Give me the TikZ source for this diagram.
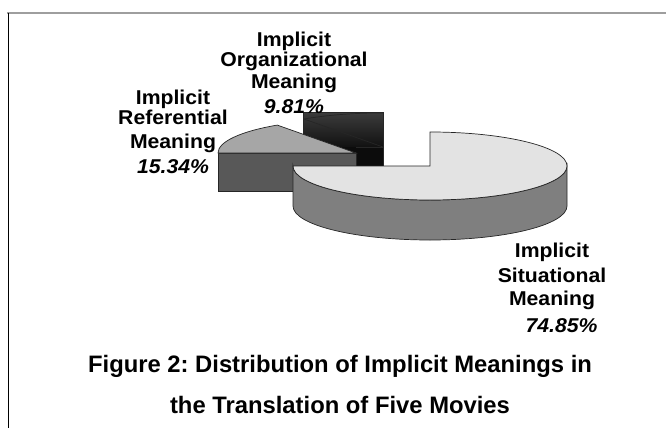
\documentclass[tikz,border=0pt]{standalone}
\usepackage{fontspec}
\setmainfont{Liberation Sans}
\frenchspacing
\definecolor{sitTop}{HTML}{E3E3E3}
\definecolor{sitSide}{HTML}{7F7F7F}
\definecolor{refTop}{HTML}{A6A6A6}
\definecolor{refSide}{HTML}{585858}
\definecolor{orgTop}{HTML}{3C3C3C}
\definecolor{orgBot}{HTML}{111111}
\definecolor{orgDark}{HTML}{0C0C0C}
\tikzset{every path/.style={line width=0.7pt}, edge/.style={draw=black!85},
  lbl/.style={font=\fontsize{20}{22}\selectfont\bfseries, align=center, inner sep=0pt, anchor=north, xscale=1.06},
  capt/.style={font=\fontsize{23.8}{41}\selectfont\bfseries, align=center, inner sep=0pt, anchor=north}}

\begin{document}
\begin{tikzpicture}[x=1pt,y=1pt]
   \useasboundingbox (0,0) rectangle (666,-428);
   \draw[black!38,line width=1.4pt] (7,-13) -- (666,-13);
   \draw[black,line width=1pt] (8,-13) -- (8,-428);
   % organizational slice
   \shade[top color=orgTop,bottom color=orgBot] (303,-112) rectangle (383,-147);
   \fill[orgDark] (303,-147) rectangle (383,-167);
   \draw[edge] (303,-150) -- (303,-112) -- (383,-112) -- (383,-167);
   \draw[edge] (304,-119) arc[start angle=124.8,end angle=90,x radius=138,y radius=34];
   \draw[edge] (304,-119) -- (383,-147);
   \draw[edge] (356,-147) -- (383,-147);
   % referential slice
   \filldraw[edge,fill=refSide] (218,-153) rectangle (356,-191);
   \filldraw[edge,fill=refTop] (356,-153) -- (218,-153) arc[start angle=180,end angle=124.8,x radius=138,y radius=34] -- cycle;
   % situational slice
   \filldraw[edge,fill=sitSide] (293,-166) -- (293,-206) arc[start angle=180,end angle=360,x radius=137,y radius=34]
      -- (567,-166) arc[start angle=0,end angle=-180,x radius=137,y radius=34] -- cycle;
   \filldraw[edge,fill=sitTop] (430,-166) -- (293,-166) arc[start angle=180,end angle=450,x radius=137,y radius=34] -- cycle;
   % labels
   \node[lbl] (orgLbl) at (294,-32) {Implicit\\[-2pt]Organizational\\Meaning\\[3pt]\textit{9.81\%}};
   \node[lbl] (refLbl) at (173,-90) {Implicit\\[-2pt]Referential\\[2pt]Meaning\\[3pt]\textit{15.34\%}};
   \node[lbl] (sitLbl) at (552,-243) {Implicit\\[3pt]Situational\\[1pt]Meaning\\[5pt]\hspace*{18pt}\textit{74.85\%}};
   \node[capt] (figCap) at (340,-355) {Figure 2: Distribution of Implicit Meanings in\\the Translation of Five Movies};
\end{tikzpicture}
\end{document}
